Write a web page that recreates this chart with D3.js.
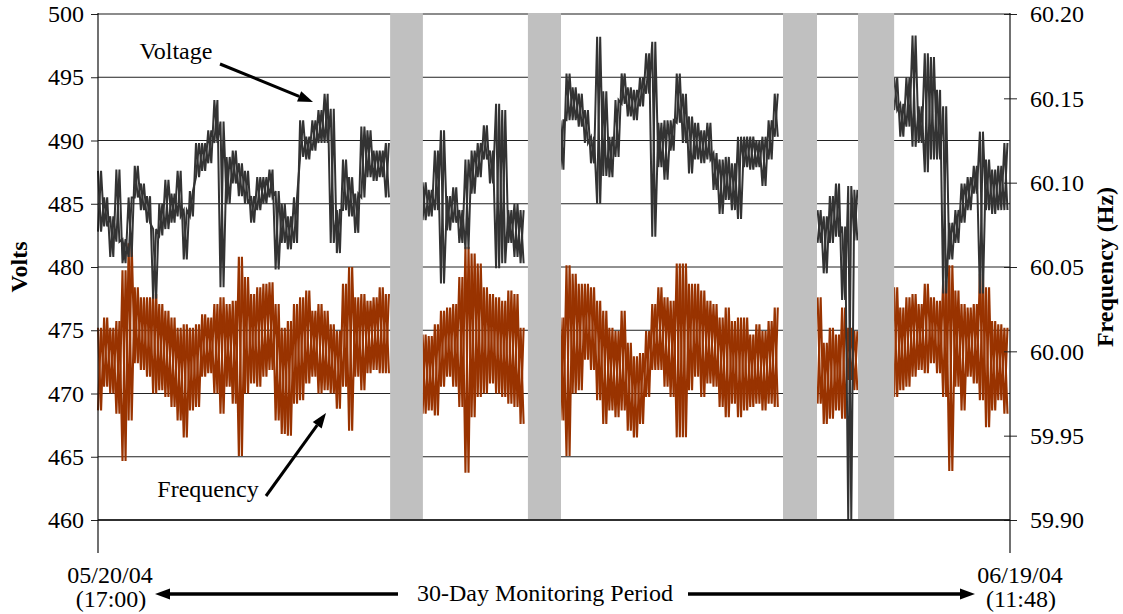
<!DOCTYPE html>
<html>
<head>
<meta charset="utf-8">
<script src="https://cdn.jsdelivr.net/npm/d3@7"></script>
<style>
  body { margin: 0; background: #fff; }
  text { font-family: "Liberation Serif", "Times New Roman", serif; fill: #000; }
</style>
</head>
<body>
<script>
// 30 days of voltage / frequency monitoring, read off the picture as
// [low, high] readings for every 0.2 day of each recorded stretch
const startTime = new Date(2004, 4, 20, 17, 0)
const endTime = new Date(2004, 5, 19, 11, 48)
const stepDays = 0.2
const segStartDays = [0, 10.6, 15.1, 23.5, 26.0]
const gapDays = [[9.54, 10.61], [14.04, 15.12], [22.37, 23.48], [24.82, 26.0]]

const voltTicks = [460, 465, 470, 475, 480, 485, 490, 495, 500]
const freqTicks = [59.90, 59.95, 60.00, 60.05, 60.10, 60.15, 60.20]

const voltS1 = [
  [482.8,487.6],[483.2,485.5],[480.8,484.0],[482.0,487.7],[480.3,482.2],[480.8,485.5],[485.5,488.0],[484.5,486.6],[483.5,485.6],[477.5,483.0],
  [482.5,485.0],[483.0,486.9],[483.5,485.8],[484.0,487.6],[480.6,484.5],[484.0,486.0],[487.1,489.8],[487.6,489.8],[488.2,490.8],[489.8,493.2],
  [478.4,491.5],[485.0,488.7],[486.6,489.2],[485.6,488.2],[485.0,487.6],[483.5,485.6],[484.5,487.1],[485.0,487.1],[485.5,487.7],[479.8,486.0],
  [481.9,485.0],[481.4,484.0],[481.9,485.5],[488.7,491.6],[488.5,490.3],[489.2,491.6],[489.8,492.4],[489.8,493.7],[481.9,492.5],[481.1,484.5],
  [484.5,488.5],[484.0,487.1],[482.7,485.8],[485.5,491.1],[487.1,490.8],[486.8,489.2],[487.1,489.2],[485.5,489.8]
]
const voltS2 = [
  [483.7,486.7],[484.0,486.1],[484.5,489.2],[478.7,490.8],[482.9,485.6],[483.5,486.3],[481.9,484.5],[481.4,488.5],[485.8,489.2],[487.1,489.8],
  [488.5,491.2],[486.6,489.2],[479.9,492.9],[480.3,492.4],[481.9,484.5],[480.8,485.0],[480.3,484.5]
]
const voltS3 = [
  [487.7,491.6],[491.6,495.3],[491.6,494.2],[491.1,493.7],[489.8,492.4],[488.2,490.3],[485.0,498.2],[487.2,493.9],[487.1,490.3],[488.7,493.2],
  [492.9,495.3],[491.9,494.2],[491.6,494.0],[492.7,495.0],[493.7,496.9],[482.4,497.8],[487.9,491.4],[486.9,491.6],[489.2,491.6],[491.4,495.3],
  [489.8,493.7],[487.4,491.9],[488.5,491.4],[488.2,490.8],[488.5,491.4],[486.1,489.0],[484.2,488.5],[485.3,488.7],[484.5,488.2],[483.8,490.3],
  [487.9,490.3],[487.7,490.3],[487.9,490.0],[486.4,490.3],[488.5,491.6],[490.3,493.7]
]
const voltS4 = [[481.9,484.5],[479.5,484.0],[481.9,485.6],[482.4,486.6],[477.4,483.2],[460.0,486.4],[482.1,486.1]]
const voltS5 = [
  [492.4,495.0],[490.3,492.9],[491.1,495.0],[489.5,498.3],[489.8,492.7],[487.5,496.9],[488.5,496.6],[488.5,494.0],[477.9,492.7],[480.6,483.5],
  [481.9,484.5],[483.5,486.6],[484.5,487.1],[485.8,488.0],[477.9,490.7],[484.5,488.5],[484.2,487.7],[484.5,488.0],[484.5,489.8]
]

const freqS1 = [
  [59.965,60.014],[59.979,60.020],[59.975,60.014],[59.963,60.018],[59.935,60.048],[59.959,60.064],[59.993,60.038],[59.989,60.032],[59.985,60.032],[59.975,60.034],
  [59.977,60.028],[59.973,60.024],[59.967,60.020],[59.959,60.014],[59.949,60.016],[59.965,60.014],[59.967,60.016],[59.985,60.022],[59.987,60.020],[59.975,60.028],
  [59.963,60.032],[59.979,60.028],[59.969,60.030],[59.938,60.056],[59.975,60.044],[59.981,60.034],[59.979,60.038],[59.985,60.040],[59.989,60.041],[59.959,60.028],
  [59.951,60.014],[59.950,60.018],[59.969,60.028],[59.971,60.032],[59.981,60.036],[59.985,60.024],[59.975,60.028],[59.977,60.024],[59.975,60.016],[59.966,60.012],
  [59.979,60.040],[59.953,60.050],[59.985,60.032],[59.977,60.034],[59.987,60.030],[59.989,60.032],[59.987,60.038],[59.987,60.034]
]
const freqS2 = [
  [59.963,60.010],[59.965,60.009],[59.962,60.016],[59.979,60.024],[59.985,60.026],[59.979,60.028],[59.967,60.044],[59.928,60.062],[59.961,60.058],[59.973,60.052],
  [59.975,60.038],[59.981,60.034],[59.975,60.032],[59.973,60.030],[59.969,60.036],[59.967,60.034],[59.957,60.014]
]
const freqS3 = [
  [59.959,60.020],[59.938,60.051],[59.975,60.046],[59.977,60.040],[59.995,60.040],[59.989,60.038],[59.971,60.030],[59.957,60.024],[59.965,60.014],[59.961,60.012],
  [59.965,60.024],[59.953,60.005],[59.949,59.997],[59.957,59.999],[59.973,60.012],[59.989,60.028],[59.989,60.038],[59.979,60.032],[59.973,60.030],[59.949,60.052],
  [59.949,60.052],[59.977,60.040],[59.985,60.040],[59.973,60.036],[59.981,60.030],[59.979,60.028],[59.967,60.020],[59.961,60.026],[59.969,60.018],[59.961,60.020],
  [59.965,60.020],[59.967,60.010],[59.969,60.016],[59.965,60.012],[59.969,60.018],[59.967,60.026]
]
const freqS4 = [[59.969,60.032],[59.957,60.005],[59.960,60.014],[59.965,60.010],[59.960,60.026],[59.983,60.014],[59.977,60.012]]
const freqS5 = [
  [59.973,60.038],[59.977,60.026],[59.979,60.032],[59.985,60.034],[59.989,60.028],[59.987,60.040],[59.993,60.032],[59.987,60.030],[59.973,60.042],[59.929,60.051],
  [59.979,60.036],[59.965,60.028],[59.985,60.026],[59.981,60.028],[59.971,60.046],[59.955,60.038],[59.965,60.018],[59.971,60.016],[59.963,60.014]
]

const voltSegs = [voltS1, voltS2, voltS3, voltS4, voltS5]
const freqSegs = [freqS1, freqS2, freqS3, freqS4, freqS5]

const [width, height] = [1123, 614]
const plot = {left: 98, right: 1010, top: 14, bottom: 520}
const fontSize = 24
const serif = '"Liberation Serif", "Times New Roman", serif'

const dayToDate = d => new Date(startTime.getTime() + d * 864e5)

const x = d3.scaleTime().domain([startTime, endTime]).range([plot.left, plot.right])
const yV = d3.scaleLinear().domain([460, 500]).range([plot.bottom, plot.top])
const yF = d3.scaleLinear().domain([59.90, 60.20]).range([plot.bottom, plot.top])

// min/max glyph: each step is drawn low->high and also high->low,
// so the two traces cross inside every 0.2 day step
const toPoints = (pairs, start, flip) => pairs.flatMap((p, i) => [
  {t: dayToDate(start + i * stepDays), v: flip ? p[1] : p[0]},
  {t: dayToDate(start + (i + 0.5) * stepDays), v: flip ? p[0] : p[1]}
])
const traces = segs => segs.flatMap((s, i) => [toPoints(s, segStartDays[i], false), toPoints(s, segStartDays[i], true)])

const svg = d3.select('body').append('svg')
  .attr('width', width)
  .attr('height', height)

// grid lines on the volt ticks
svg.append('g').selectAll('line')
  .data(voltTicks)
  .enter()
  .append('line')
    .attr('x1', plot.left).attr('x2', plot.right)
    .attr('y1', d => yV(d)).attr('y2', d => yV(d))
    .attr('stroke', d => d === 500 ? '#8c8c8c' : '#222')
    .attr('stroke-width', d => d === 500 ? 2 : 1)

const lineV = d3.line().x(d => x(d.t)).y(d => yV(d.v))
const lineF = d3.line().x(d => x(d.t)).y(d => yF(d.v))

svg.append('g').selectAll('path')
  .data(traces(freqSegs))
  .enter()
  .append('path')
    .attr('d', lineF)
    .attr('fill', 'none')
    .attr('stroke', '#993300')
    .attr('stroke-width', 2.1)

svg.append('g').selectAll('path')
  .data(traces(voltSegs))
  .enter()
  .append('path')
    .attr('d', lineV)
    .attr('fill', 'none')
    .attr('stroke', '#333333')
    .attr('stroke-width', 2)

// gray blocks where nothing was recorded
svg.append('g').selectAll('rect')
  .data(gapDays)
  .enter()
  .append('rect')
    .attr('x', d => x(dayToDate(d[0])))
    .attr('width', d => x(dayToDate(d[1])) - x(dayToDate(d[0])))
    .attr('y', plot.top - 1)
    .attr('height', plot.bottom - plot.top)
    .attr('fill', '#c0c0c0')

// axes
const leftAxis = svg.append('g')
  .attr('transform', `translate(${plot.left},0)`)
  .call(d3.axisLeft(yV).tickValues(voltTicks).tickSize(7).tickPadding(7).tickFormat(d3.format('d')))
leftAxis.select('.domain').remove()

const rightAxis = svg.append('g')
  .attr('transform', `translate(${plot.right},0)`)
  .call(d3.axisRight(yF).tickValues(freqTicks).tickSize(7).tickPadding(13).tickFormat(d3.format('.2f')))
rightAxis.select('.domain').remove()
rightAxis.selectAll('.tick line').attr('x1', -6)

for (const ax of [leftAxis, rightAxis]) {
  ax.attr('font-family', serif).attr('font-size', fontSize)
  ax.selectAll('.tick text').attr('fill', '#000')
  ax.selectAll('.tick line').attr('stroke', '#222')
}

svg.append('g').selectAll('line')
  .data([plot.left, plot.right])
  .enter()
  .append('line')
    .attr('x1', d => d).attr('x2', d => d)
    .attr('y1', plot.top - 1).attr('y2', 553)
    .attr('stroke', '#111')
    .attr('stroke-width', 1.2)

svg.append('line')
  .attr('x1', plot.left).attr('x2', plot.right)
  .attr('y1', plot.bottom).attr('y2', plot.bottom)
  .attr('stroke', '#111').attr('stroke-width', 1.5)

// axis titles
svg.append('text')
  .attr('transform', 'translate(27,267) rotate(-90)')
  .attr('text-anchor', 'middle')
  .attr('font-weight', 'bold')
  .attr('font-size', fontSize)
  .text('Volts')

svg.append('text')
  .attr('transform', 'translate(1113,267) rotate(-90)')
  .attr('text-anchor', 'middle')
  .attr('font-weight', 'bold')
  .attr('font-size', fontSize)
  .text('Frequency (Hz)')

const labels = [
  {text: '05/20/04', x: 110, y: 583},
  {text: '(17:00)', x: 111, y: 607},
  {text: '06/19/04', x: 1020, y: 583},
  {text: '(11:48)', x: 1021, y: 607},
  {text: '30-Day Monitoring Period', x: 545, y: 601},
  {text: 'Voltage', x: 176, y: 59},
  {text: 'Frequency', x: 208, y: 497}
]
svg.append('g').selectAll('text')
  .data(labels)
  .enter()
  .append('text')
    .attr('x', d => d.x)
    .attr('y', d => d.y)
    .attr('text-anchor', 'middle')
    .attr('font-size', fontSize)
    .text(d => d.text)

function arrow(x1, y1, x2, y2, w) {
  const a = Math.atan2(y2 - y1, x2 - x1)
  const len = 15, half = 5.5
  const bx = x2 - len * Math.cos(a), by = y2 - len * Math.sin(a)
  svg.append('line')
    .attr('x1', x1).attr('y1', y1).attr('x2', bx).attr('y2', by)
    .attr('stroke', '#000').attr('stroke-width', w)
  svg.append('path')
    .attr('d', `M${x2},${y2}L${bx - half * Math.sin(a)},${by + half * Math.cos(a)}L${bx + half * Math.sin(a)},${by - half * Math.cos(a)}Z`)
    .attr('fill', '#000')
}

arrow(220, 64, 313, 102, 3)
arrow(266, 496, 326, 413, 3)
arrow(398, 594, 155, 594, 3.5)
arrow(688, 594, 975, 594, 3.5)
</script>
</body>
</html>
